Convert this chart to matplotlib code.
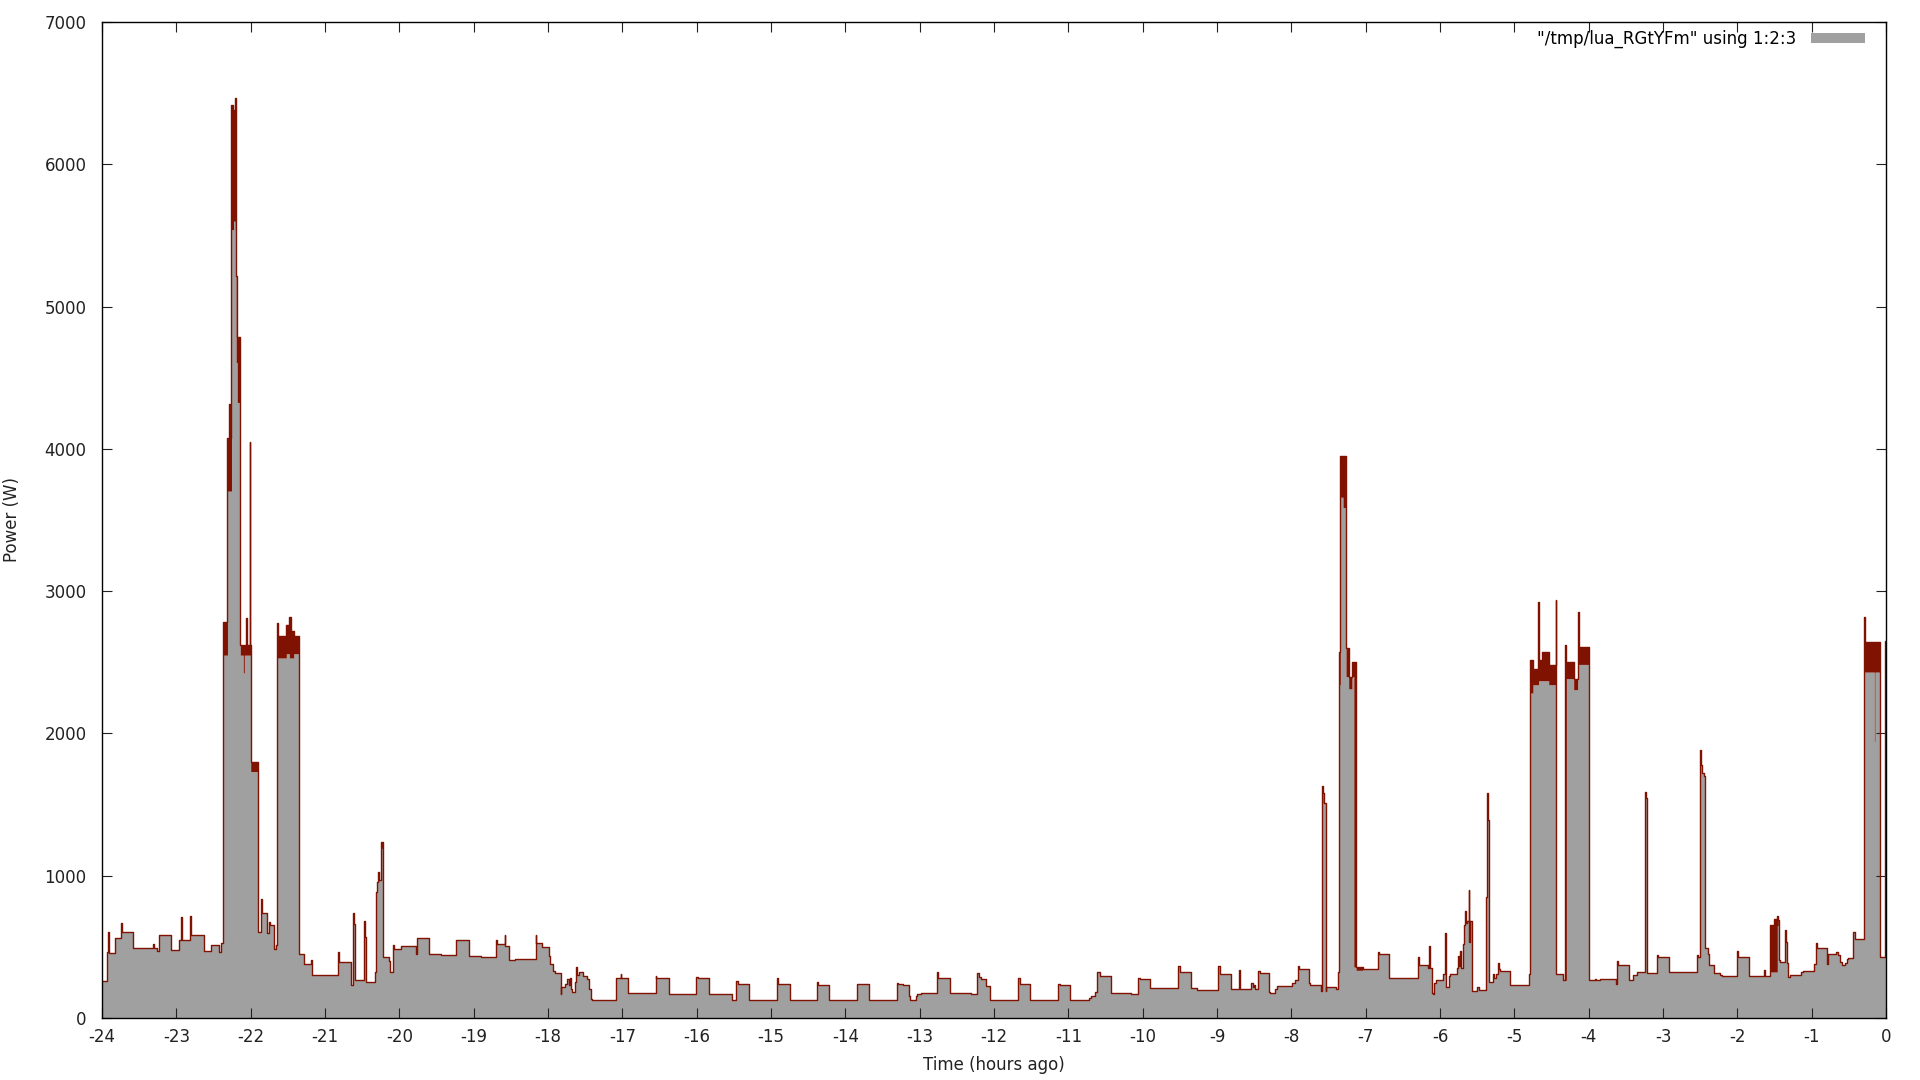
#!/usr/bin/env python3
"""
Household power draw over the last 24 hours (gnuplot-style filled curve).
Values read off the reference picture: each entry starts a step that lasts
until the next entry. watts_min/watts_max give the band drawn in dark red.
"""

import numpy as np
import matplotlib
matplotlib.use("Agg")
import matplotlib.pyplot as plt

# Step start times (hours ago)
hours = [
    -24.000, -23.928, -23.915, -23.906, -23.825, -23.740, -23.731, -23.578,
    -23.309, -23.296, -23.256, -23.233, -23.067, -22.964, -22.942, -22.928,
    -22.816, -22.807, -22.628, -22.529, -22.426, -22.395, -22.368, -22.312,
    -22.285, -22.276, -22.258, -22.231, -22.209, -22.196, -22.182, -22.141,
    -22.100, -22.085, -22.067, -22.054, -22.012, -22.003, -22.000, -21.901,
    -21.857, -21.848, -21.785, -21.753, -21.740, -21.686, -21.664, -21.650,
    -21.636, -21.520, -21.480, -21.458, -21.420, -21.350, -21.283, -21.193,
    -21.170, -20.825, -20.812, -20.655, -20.623, -20.610, -20.596, -20.475,
    -20.466, -20.448, -20.332, -20.314, -20.296, -20.287, -20.274, -20.242,
    -20.220, -20.139, -20.126, -20.085, -20.072, -19.973, -19.780, -19.767,
    -19.601, -19.444, -19.233, -19.067, -18.900, -18.700, -18.691, -18.578,
    -18.574, -18.529, -18.439, -18.166, -18.157, -18.081, -17.987, -17.978,
    -17.933, -17.910, -17.830, -17.821, -17.776, -17.740, -17.722, -17.709,
    -17.695, -17.677, -17.641, -17.628, -17.614, -17.578, -17.525, -17.471,
    -17.453, -17.426, -17.408, -17.081, -17.022, -17.013, -16.924, -16.552,
    -16.543, -16.377, -16.004, -15.982, -15.839, -15.525, -15.466, -15.444,
    -15.296, -14.919, -14.906, -14.749, -14.381, -14.368, -14.220, -13.839,
    -13.682, -13.300, -13.291, -13.224, -13.148, -13.135, -13.054, -13.031,
    -12.987, -12.767, -12.753, -12.596, -12.305, -12.224, -12.206, -12.170,
    -12.103, -12.058, -11.677, -11.655, -11.516, -11.139, -11.117, -10.978,
    -10.726, -10.691, -10.646, -10.610, -10.578, -10.430, -10.422, -10.152,
    -10.063, -10.040, -9.906, -9.520, -9.502, -9.354, -9.265, -8.987,
    -8.964, -8.816, -8.700, -8.686, -8.538, -8.516, -8.502, -8.484,
    -8.448, -8.426, -8.305, -8.283, -8.215, -8.193, -7.991, -7.955,
    -7.915, -7.901, -7.758, -7.744, -7.596, -7.587, -7.574, -7.556,
    -7.538, -7.529, -7.395, -7.377, -7.363, -7.341, -7.305, -7.265,
    -7.229, -7.184, -7.160, -7.130, -7.040, -6.839, -6.825, -6.691,
    -6.677, -6.300, -6.287, -6.161, -6.143, -6.130, -6.108, -6.094,
    -6.076, -6.049, -5.960, -5.937, -5.924, -5.915, -5.883, -5.861,
    -5.771, -5.758, -5.744, -5.726, -5.713, -5.695, -5.682, -5.664,
    -5.650, -5.637, -5.614, -5.610, -5.601, -5.574, -5.502, -5.480,
    -5.377, -5.368, -5.359, -5.350, -5.341, -5.287, -5.269, -5.247,
    -5.224, -5.211, -5.188, -5.063, -4.807, -4.785, -4.749, -4.682,
    -4.673, -4.628, -4.538, -4.444, -4.435, -4.350, -4.314, -4.300,
    -4.202, -4.148, -4.135, -4.000, -3.910, -3.901, -3.848, -3.632,
    -3.623, -3.601, -3.462, -3.408, -3.345, -3.242, -3.229, -3.220,
    -3.211, -3.085, -3.072, -2.924, -2.547, -2.525, -2.502, -2.484,
    -2.471, -2.448, -2.439, -2.390, -2.377, -2.314, -2.233, -2.211,
    -2.009, -1.987, -1.848, -1.641, -1.628, -1.561, -1.507, -1.462,
    -1.448, -1.439, -1.426, -1.359, -1.345, -1.336, -1.314, -1.291,
    -1.143, -1.112, -0.969, -0.946, -0.933, -0.789, -0.776, -0.673,
    -0.641, -0.619, -0.596, -0.552, -0.529, -0.507, -0.439, -0.417,
    -0.296, -0.292, -0.278, -0.157, -0.148, -0.081, -0.075, -0.013,
    0.000,
]

# Upper edge of each step (W)
watts_max = [
    258, 465, 605, 458, 559, 669, 606, 490,
    523, 490, 470, 580, 477, 547, 711, 547,
    718, 582, 470, 514, 465, 530, 2780, 4078,
    4312, 4078, 6418, 6380, 6466, 5213, 4789, 2620,
    2600, 2620, 2812, 2620, 4045, 2620, 1800, 606,
    836, 735, 594, 676, 653, 488, 510, 2777,
    2683, 2760, 2817, 2720, 2683, 453, 383, 406,
    300, 465, 392, 235, 735, 664, 265, 681,
    570, 253, 324, 887, 958, 1028, 969, 1239,
    430, 400, 324, 512, 488, 505, 453, 563,
    453, 441, 550, 437, 431, 550, 520, 583,
    508, 407, 412, 583, 524, 496, 438, 379,
    332, 316, 169, 215, 239, 274, 230, 279,
    204, 185, 250, 356, 302, 325, 293, 274,
    204, 133, 124, 279, 307, 279, 176, 293,
    279, 169, 286, 281, 169, 124, 262, 239,
    124, 279, 239, 124, 250, 232, 124, 241,
    124, 243, 236, 229, 157, 124, 157, 171,
    176, 321, 281, 176, 169, 314, 286, 274,
    227, 124, 281, 239, 124, 239, 234, 124,
    140, 157, 180, 325, 297, 180, 176, 169,
    281, 274, 208, 363, 321, 208, 194, 368,
    309, 204, 339, 204, 246, 215, 234, 204,
    332, 315, 186, 178, 206, 226, 244, 264,
    364, 344, 244, 235, 192, 1631, 1582, 1510,
    192, 221, 206, 321, 2571, 3952, 3952, 2600,
    2399, 2499, 2499, 358, 341, 464, 450, 284,
    278, 427, 373, 350, 507, 350, 178, 169,
    249, 264, 307, 599, 565, 221, 292, 312,
    350, 436, 364, 473, 350, 522, 651, 751,
    665, 679, 900, 536, 685, 192, 215, 198,
    851, 1582, 1510, 1390, 255, 307, 278, 307,
    387, 341, 330, 229, 307, 2514, 2450, 2923,
    2514, 2571, 2480, 2938, 307, 264, 2620, 2499,
    2385, 2852, 2605, 264, 272, 265, 272, 241,
    398, 370, 265, 304, 323, 1588, 1546, 1500,
    318, 440, 429, 323, 440, 429, 1885, 1775,
    1724, 1700, 492, 452, 375, 316, 300, 295,
    468, 426, 295, 335, 295, 651, 698, 717,
    686, 405, 393, 621, 534, 384, 288, 300,
    323, 330, 382, 527, 492, 382, 452, 461,
    440, 393, 375, 389, 417, 422, 604, 557,
    651, 2817, 2642, 2642, 2642, 440, 429, 2653,
    2653,
]

# Lower edge of each step (W); equal to the upper edge outside noisy bands
watts_min = [
    258, 465, 605, 458, 559, 669, 606, 490,
    523, 490, 470, 580, 477, 547, 711, 547,
    718, 582, 470, 514, 465, 530, 2550, 3703,
    3703, 3703, 5541, 5600, 5541, 4607, 4326, 2550,
    2425, 2550, 2550, 2550, 2550, 2550, 1732, 606,
    836, 735, 594, 676, 653, 488, 510, 2530,
    2530, 2560, 2530, 2530, 2560, 453, 383, 406,
    300, 465, 392, 235, 735, 664, 265, 681,
    570, 253, 324, 887, 958, 958, 969, 1192,
    430, 400, 324, 512, 488, 505, 453, 563,
    453, 441, 550, 437, 431, 550, 520, 583,
    508, 407, 412, 583, 524, 496, 438, 379,
    332, 316, 169, 215, 239, 274, 230, 279,
    204, 185, 250, 356, 302, 325, 293, 274,
    204, 133, 124, 279, 307, 279, 176, 293,
    279, 169, 286, 281, 169, 124, 262, 239,
    124, 279, 239, 124, 250, 232, 124, 241,
    124, 243, 236, 229, 157, 124, 157, 171,
    176, 321, 281, 176, 169, 314, 286, 274,
    227, 124, 281, 239, 124, 239, 234, 124,
    140, 157, 180, 325, 297, 180, 176, 169,
    281, 274, 208, 363, 321, 208, 194, 368,
    309, 204, 339, 204, 246, 215, 234, 204,
    332, 315, 186, 178, 206, 226, 244, 264,
    364, 344, 244, 235, 192, 1582, 1510, 1510,
    192, 221, 206, 321, 2342, 3660, 3588, 2399,
    2313, 2400, 358, 335, 341, 464, 450, 284,
    278, 427, 373, 350, 507, 350, 178, 169,
    249, 264, 307, 599, 565, 221, 292, 312,
    350, 436, 364, 473, 350, 522, 651, 751,
    665, 679, 900, 536, 685, 192, 215, 198,
    851, 1582, 1510, 1390, 255, 307, 278, 307,
    387, 341, 330, 229, 307, 2284, 2342, 2342,
    2370, 2370, 2342, 2284, 307, 264, 264, 2385,
    2307, 2485, 2485, 264, 272, 265, 272, 241,
    398, 370, 265, 304, 323, 1588, 1546, 1500,
    318, 440, 429, 323, 440, 429, 1885, 1775,
    1724, 1700, 492, 452, 375, 316, 300, 295,
    468, 426, 295, 335, 295, 323, 323, 650,
    686, 405, 393, 621, 534, 384, 288, 300,
    323, 330, 382, 527, 492, 382, 452, 461,
    440, 393, 375, 389, 417, 422, 604, 557,
    651, 2431, 2431, 1944, 2431, 440, 429, 2600,
    2600,
]

x_ticks = list(range(-24, 1))
y_ticks = list(range(0, 7001, 1000))
legend_label = '"/tmp/lua_RGtYFm" using 1:2:3'

fill_gray = '#a0a0a0'
line_red = '#7f1200'

plt.rcParams['font.family'] = ['DejaVu Sans']
plt.rcParams['font.size'] = 12
plt.rcParams['axes.unicode_minus'] = False  # gnuplot prints a plain hyphen

fig = plt.figure(figsize=(19.2, 10.8), dpi=100)
ax = fig.add_axes([102 / 1920, 1 - 1018 / 1080, 1784 / 1920, 996 / 1080])

t = np.array(hours)
hi = np.array(watts_max)
lo = np.array(watts_min)

ax.fill_between(t, 0, lo, step='post', color=fill_gray, lw=0, label=legend_label)
ax.fill_between(t, lo, hi, step='post', color=line_red, lw=0)
ax.step(t, hi, where='post', color=line_red, lw=1.0)

ax.set_xlim(-24, 0)
ax.set_ylim(0, 7000)
ax.set_xticks(x_ticks)
ax.set_yticks(y_ticks)
ax.tick_params(direction='in', top=True, right=True, length=7, width=0.8,
               labelsize=12, colors='#222222')
ax.tick_params(axis='y', pad=11)
ax.tick_params(axis='x', pad=7)
for s in ax.spines.values():
    s.set_linewidth(1.0)
    s.set_color('black')

ax.set_xlabel('Time (hours ago)', fontsize=12, color='#222222')
ax.set_ylabel('Power (W)', fontsize=12, color='#222222')
ax.xaxis.set_label_coords(0.5, -0.038)
ax.yaxis.set_label_coords(-0.0454, 0.5)

ax.legend(loc='upper right', bbox_to_anchor=(0.9882, 0.992), frameon=False,
          markerfirst=False, fontsize=12, borderpad=0, borderaxespad=0,
          handlelength=3.25, handleheight=0.5, handletextpad=0.85)

fig.savefig('out.png', dpi=100)
